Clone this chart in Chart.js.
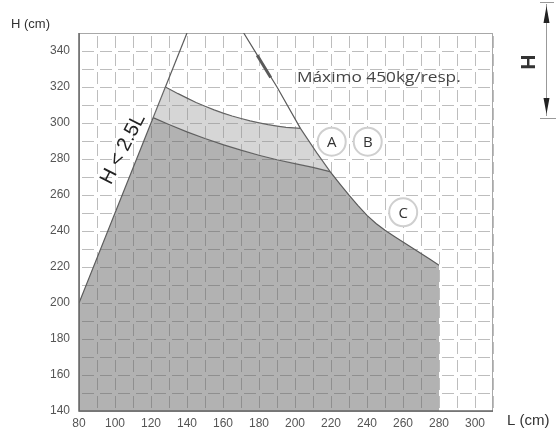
<!DOCTYPE html>
<html>
<head>
<meta charset="utf-8">
<script src="https://cdn.jsdelivr.net/npm/chart.js@4/dist/chart.umd.min.js"></script>
<style>
html,body{margin:0;padding:0;background:#fff;}
#wrap{width:557px;height:429px;position:relative;}
</style>
</head>
<body>
<div id="wrap"><canvas id="c" width="557" height="429"></canvas></div>
<script>
// ---- Data (L in cm, H in cm) ----
const xTicks = [80,100,120,140,160,180,200,220,240,260,280,300];
const yTicks = [140,160,180,200,220,240,260,280,300,320,340];

// Line H = 2.5 L
const limitL = [80, 140];
const limitH = [200, 350];

// Outer boundary (A/C curve)
const outerL = [171.5,180,190,203,212,219.5,225,230,235,240,245,250,255,260,265,270,275,280];
const outerH = [350,336.2,320,297,283.5,273,266,259.9,254.1,248.7,244.2,240.4,237.1,233.9,230.7,227.5,224.3,221];

// Curve bounding the dark zone (C)
const darkL = [121.2,130,140,150,160,170,180,190,200,210,219.5];
const darkH = [303,299.2,295.1,291.4,288,284.9,282.1,279.6,277.4,275.3,273];

// Curve bounding the light zone (A)
const lightL = [128,135,140,145,150,155,160,165,170,175,180,185,190,195,203];
const lightH = [320,316.3,313.8,311.4,309.3,307.3,305.5,303.9,302.5,301.2,300.1,299.1,298.3,297.6,297];

// Heavier stroke on the outer curve
const thickL = [179,186.5];
const thickH = [337.6,325.3];

// Circle labels
const labels = ['A','B','C'];
const labelL = [220.4,240.4,260.1];
const labelH = [289.6,289.6,250.4];

const pts = (xs, ys) => xs.map((x,i)=>({x:x, y:ys[i]}));

// Dark region: left edge on H=2.5L, dark curve, then outer curve down to 280
const darkRegion = [{x:80,y:200}]
  .concat(pts(darkL,darkH))
  .concat(pts(outerL,outerH).filter(p=>p.x>219.5));
// Light region polygon
const lightRegion = [{x:darkL[0],y:darkH[0]}]
  .concat(pts(lightL,lightH))
  .concat(pts(outerL,outerH).filter(p=>p.x>203 && p.x<=219.5))
  .concat(pts(darkL,darkH).reverse().slice(1));

const lineStyle = (data, w) => ({
  data, showLine:true, fill:false, borderColor:'#5a5a5a', borderWidth:w,
  pointRadius:0, tension:0
});

const overlay = {
  id:'overlay',
  beforeDatasetsDraw(chart){
    const {ctx, chartArea:a} = chart;
    ctx.save();
    ctx.strokeStyle = '#a8a8a8';
    ctx.lineWidth = 1;
    ctx.strokeRect(a.left+0.5, a.top+0.5, a.right-a.left-1, a.bottom-a.top);
    ctx.restore();
  },
  afterDatasetsDraw(chart){
    const {ctx, chartArea:a, scales:{x,y}} = chart;
    ctx.save();
    // axis lines (left/bottom)
    ctx.strokeStyle = '#666';
    ctx.lineWidth = 1.5;
    ctx.beginPath();
    ctx.moveTo(a.left, a.top); ctx.lineTo(a.left, a.bottom); ctx.lineTo(a.right, a.bottom);
    ctx.stroke();

    // circle letters
    ctx.fillStyle = '#333';
    ctx.font = '15px "Open Sans", "Liberation Sans", sans-serif';
    ctx.textAlign = 'center';
    ctx.textBaseline = 'middle';
    labels.forEach((t,i)=>{
      ctx.fillText(t, x.getPixelForValue(labelL[i]), y.getPixelForValue(labelH[i])+1);
    });

    // annotation (slightly stretched horizontally like the original)
    ctx.save();
    ctx.translate(297, 78);
    ctx.scale(1.15, 1);
    ctx.fillStyle = '#444';
    ctx.font = '15px "Open Sans", "Liberation Sans", sans-serif';
    ctx.textAlign = 'left';
    ctx.textBaseline = 'middle';
    ctx.fillText('Máximo 450kg/resp.', 0, 0);
    ctx.restore();

    // H < 2.5L rotated
    ctx.save();
    ctx.translate(123, 149);
    ctx.rotate(-63*Math.PI/180);
    ctx.fillStyle = '#222';
    ctx.font = '20px "Liberation Sans", Arial, sans-serif';
    ctx.textAlign = 'center';
    ctx.textBaseline = 'middle';
    ctx.fillText('H < 2.5L', 0, 0);
    ctx.restore();

    // axis titles
    ctx.fillStyle = '#333';
    ctx.font = '13px "Liberation Sans", Arial, sans-serif';
    ctx.textAlign = 'left';
    ctx.textBaseline = 'middle';
    ctx.fillText('H (cm)', 11, 24);
    ctx.font = '15px "Liberation Sans", Arial, sans-serif';
    ctx.fillText('L (cm)', 507, 421);

    // H dimension indicator
    ctx.strokeStyle = '#999';
    ctx.lineWidth = 1;
    ctx.beginPath();
    ctx.moveTo(546.5, 4); ctx.lineTo(546.5, 116);
    ctx.moveTo(540, 2.5); ctx.lineTo(554, 2.5);
    ctx.moveTo(540, 118.5); ctx.lineTo(556, 118.5);
    ctx.stroke();
    ctx.fillStyle = '#222';
    ctx.beginPath();
    ctx.moveTo(546.5, 6); ctx.lineTo(543.5, 23); ctx.lineTo(549.5, 23); ctx.closePath();
    ctx.fill();
    ctx.beginPath();
    ctx.moveTo(546.5, 114); ctx.lineTo(543.5, 98); ctx.lineTo(549.5, 98); ctx.closePath();
    ctx.fill();
    ctx.save();
    ctx.translate(528, 62);
    ctx.rotate(Math.PI/2);
    ctx.font = 'bold 21px "Liberation Sans", Arial, sans-serif';
    ctx.textAlign = 'center';
    ctx.textBaseline = 'middle';
    ctx.fillStyle = '#333';
    ctx.fillText('H', 0, 1);
    ctx.restore();
    ctx.restore();
  }
};

new Chart(document.getElementById('c'), {
  type:'scatter',
  data:{ datasets:[
    { data: darkRegion, showLine:true, fill:{value:140}, backgroundColor:'rgba(95,95,95,0.48)',
      borderWidth:0, pointRadius:0, tension:0 },
    { data: lightRegion, showLine:true, fill:'shape', backgroundColor:'rgba(140,140,140,0.36)',
      borderWidth:0, pointRadius:0, tension:0 },
    lineStyle(pts(limitL,limitH), 1.2),
    lineStyle(pts(outerL,outerH), 1.2),
    lineStyle(pts(darkL,darkH), 1.2),
    lineStyle(pts(lightL,lightH), 1.2),
    lineStyle(pts(thickL,thickH), 3),
    { data: pts(labelL,labelH), showLine:false, pointRadius:14, pointHoverRadius:14,
      pointBackgroundColor:'#fff', pointBorderColor:'#cfcfcf', pointBorderWidth:2 }
  ]},
  options:{
    responsive:false, animation:false, events:[],
    layout:{ padding:{ top:33, right:64, left:0, bottom:0 } },
    plugins:{ legend:{display:false}, tooltip:{enabled:false} },
    scales:{
      x:{ type:'linear', min:80, max:310,
        afterFit(s){ s.height = 18; },
        afterBuildTicks(s){ s.ticks = []; for(let v=80; v<=310; v+=10) s.ticks.push({value:v}); },
        ticks:{ autoSkip:false, maxRotation:0, padding:5, color:'#555',
          font:{ size:12, family:'"Liberation Sans", Arial, sans-serif' },
          callback:(v)=> xTicks.includes(v) ? String(v) : '' },
        grid:{ color:'#bdbdbd', lineWidth:1, drawTicks:false },
        border:{ display:false, dash:[12,6], dashOffset:15 } },
      y:{ type:'linear', min:140, max:350,
        afterFit(s){ s.width = 79; },
        afterBuildTicks(s){ s.ticks = []; for(let v=140; v<=350; v+=10) s.ticks.push({value:v}); },
        ticks:{ autoSkip:false, padding:9, color:'#555',
          font:{ size:12, family:'"Liberation Sans", Arial, sans-serif' },
          callback:(v)=> yTicks.includes(v) ? String(v) : '' },
        grid:{ color:'#bdbdbd', lineWidth:1, drawTicks:false },
        border:{ display:false, dash:[12,6], dashOffset:15 } }
    }
  },
  plugins:[overlay]
});
</script>
</body>
</html>
